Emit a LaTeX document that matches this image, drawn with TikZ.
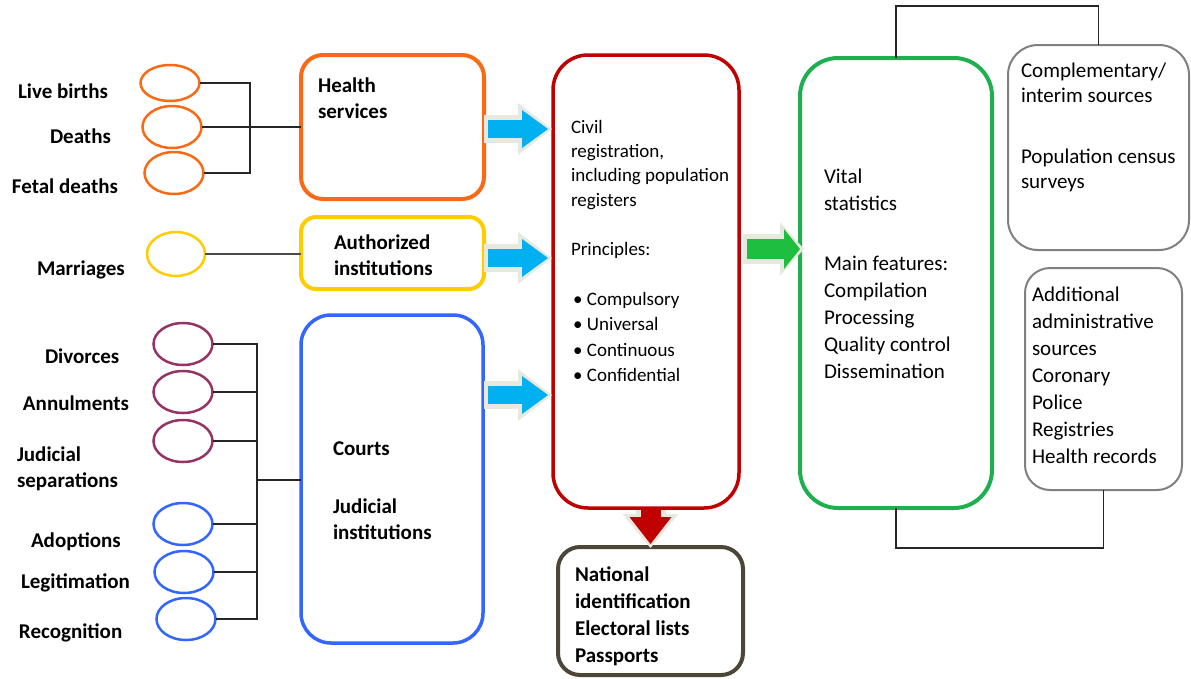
\documentclass[tikz,border=0pt]{standalone}
\usepackage{fontspec}
\setmainfont{Carlito}
\usetikzlibrary{shapes.geometric,arrows.meta,calc}
\definecolor{cOrange}{RGB}{250,105,20}
\definecolor{cYellow}{RGB}{255,204,0}
\definecolor{cPurple}{RGB}{150,50,100}
\definecolor{cBlue}{RGB}{51,102,255}
\definecolor{cRed}{RGB}{192,0,0}
\definecolor{cGreen}{RGB}{30,176,80}
\definecolor{cGray}{RGB}{128,128,128}
\definecolor{cOlive}{RGB}{75,70,55}
\definecolor{aBlue}{RGB}{0,176,240}
\definecolor{aGreen}{RGB}{30,190,65}
\definecolor{aRed}{RGB}{192,0,0}
\definecolor{cHalo}{RGB}{232,232,222}
\begin{document}
\begin{tikzpicture}[x=1pt,y=-1pt,
  every node/.style={inner sep=0pt, outer sep=0pt},
  box/.style={draw, rectangle, fill=white},
  oval/.style={draw, ellipse, line width=2.5pt, minimum width=59pt, minimum height=42pt},
  lbl/.style={anchor=base west, align=left, font=\fontsize{21}{26}\selectfont\bfseries},
  body/.style={anchor=base west, align=left},
  wire/.style={line width=1.4pt, draw=black!85},
  halo/.style={draw=cHalo, line width=#1, shorten <=-4pt, shorten >=-4pt},
]
\useasboundingbox (0,0) rectangle (1191,678);

% ---------- boxes ----------
\node[box, draw=cOrange, line width=4pt, rounded corners=22pt, minimum width=183pt, minimum height=144pt] (hs) at (392.5,127) {};
\node[box, draw=cYellow, line width=4pt, rounded corners=15pt, minimum width=183pt, minimum height=72pt] (auth) at (392.5,253) {};
\node[box, draw=cBlue, line width=3.5pt, rounded corners=30pt, minimum width=182pt, minimum height=328pt] (courts) at (392,479) {};
\node[box, draw=cRed, line width=3.5pt, rounded corners=35pt, minimum width=186pt, minimum height=453pt] (civil) at (646,281.5) {};
\node[box, draw=cOlive, line width=4pt, rounded corners=22pt, minimum width=185pt, minimum height=128pt] (nat) at (650.5,611) {};
\node[box, draw=cGreen, line width=4pt, rounded corners=38pt, minimum width=192pt, minimum height=450pt] (vs) at (896,283) {};
\node[box, draw=cGray, line width=2pt, rounded corners=30pt, minimum width=181pt, minimum height=205pt] (comp) at (1098.5,147.5) {};
\node[box, draw=cGray, line width=2pt, rounded corners=25pt, minimum width=157pt, minimum height=222pt] (add) at (1103.5,379) {};

% ---------- ellipses ----------
\node[oval, draw=cOrange, minimum height=36pt] (eLB) at (170,83) {};
\node[oval, draw=cOrange] (eDe) at (172,127) {};
\node[oval, draw=cOrange] (eFD) at (174,173) {};
\node[oval, draw=cYellow, minimum width=58pt, minimum height=44pt] (eMa) at (176,254) {};
\node[oval, draw=cPurple] (eDi) at (183,344) {};
\node[oval, draw=cPurple] (eAn) at (183,392) {};
\node[oval, draw=cPurple] (eJS) at (183,441) {};
\node[oval, draw=cBlue] (eAd) at (183,524) {};
\node[oval, draw=cBlue] (eLe) at (184,572) {};
\node[oval, draw=cBlue] (eRe) at (186,619) {};

% ---------- left labels (anchor = baseline of last line) ----------
\node[lbl] (tLB) at (18,98) {Live births};
\node[lbl] (tDe) at (50,143) {Deaths};
\node[lbl] (tFD) at (12,193) {Fetal deaths};
\node[lbl] (tMa) at (37,275) {Marriages};
\node[lbl] (tDi) at (45,363) {Divorces};
\node[lbl] (tAn) at (23,410) {Annulments};
\node[lbl] (tJS) at (17,487) {Judicial\\separations};
\node[lbl] (tAd) at (31,547) {Adoptions};
\node[lbl] (tLe) at (21,588) {Legitimation};
\node[lbl] (tRe) at (19,638) {Recognition};

% ---------- box texts ----------
\node[lbl] (tHS) at (318,118) {Health\\services};
\node[lbl] (tAI) at (334,275) {Authorized\\institutions};
\node[lbl] (tCo) at (333,539) {Courts\\[32pt]Judicial\\institutions};
\node[body, font=\fontsize{19}{24.4}\selectfont] (tCR) at (571,255)
  {Civil\\registration,\\including population\\registers\\[24.4pt]Principles:};
\node[body, font=\fontsize{19}{25.5}\selectfont] (tPr) at (573,381.5)
  {\makebox[14pt][l]{\textbullet}Compulsory\\\makebox[14pt][l]{\textbullet}Universal\\\makebox[14pt][l]{\textbullet}Continuous\\\makebox[14pt][l]{\textbullet}Confidential};
\node[body, font=\fontsize{21}{27}\selectfont] (tVS) at (824,378)
  {Vital\\statistics\\[33pt]Main features:\\Compilation\\Processing\\Quality control\\Dissemination};
\node[body, font=\fontsize{21}{25}\selectfont] (tCS) at (1021,188)
  {Complementary/\\interim sources\\[36pt]Population census\\surveys};
\node[body, font=\fontsize{21}{27}\selectfont] (tAS) at (1032,463)
  {Additional\\administrative\\sources\\Coronary\\Police\\Registries\\Health records};
\node[lbl, font=\fontsize{21}{27}\selectfont\bfseries] (tNI) at (575,662)
  {National\\identification\\Electoral lists\\Passports};

% ---------- wires ----------
\coordinate (hbus) at (250,127);
\draw[wire] (eLB.east) -| (hbus);
\draw[wire] (eFD.east) -| (hbus);
\draw[wire] (eDe.east) -- (hbus) -- (hs.west);
\draw[wire, line width=1.1pt, draw=black!70] (eMa.east) -- (eMa.east -| auth.west);
\coordinate (cbus) at (257,480);
\draw[wire] (eDi.east) -| (cbus);
\draw[wire] (eAn.east) -| (cbus);
\draw[wire] (eJS.east) -| (cbus);
\draw[wire] (eAd.east) -| (cbus);
\draw[wire] (eLe.east) -| (cbus);
\draw[wire] (eRe.east) -| (cbus);
\draw[wire, line width=2pt] (cbus) -- (cbus -| courts.west);
\draw[wire] (vs.north) -- ++(0,-52) -| (comp.north);
\draw[wire] (vs.south) -- ++(0,40) -| (add.south);

% ---------- block arrows ----------
\coordinate (a1s) at ($(hs.east)+(4,2)$);
\coordinate (a1e) at ($(a1s -| civil.west)+(-5,0)$);
\coordinate (a2s) at ($(auth.east)+(4,5)$);
\coordinate (a2e) at ($(a2s -| civil.west)+(-5,0)$);
\coordinate (a3s) at ($(courts.east)+(5,-84)$);
\coordinate (a3e) at ($(a3s -| civil.west)+(-5,0)$);
\foreach \s/\e in {a1s/a1e, a2s/a2e, a3s/a3e}{
  \draw[halo=28pt, -{Triangle[length=34pt,width=52pt,line width=0pt]}] (\s) -- (\e);
  \draw[draw=aBlue, line width=18pt, -{Triangle[length=26pt,width=38pt,line width=0pt]}] (\s) -- (\e);
}
\coordinate (gs) at ($(civil.east)+(8,-32.5)$);
\coordinate (ge) at (gs -| vs.west);
\draw[halo=30pt, -{Triangle[length=24pt,width=54pt,line width=0pt]}] (gs) -- (ge);
\draw[draw=aGreen, line width=20pt, -{Triangle[length=16pt,width=40pt,line width=0pt]}] (gs) -- (ge);
\coordinate (rs) at ($(civil.south -| nat.north)+(0,2)$);
\coordinate (re) at ($(nat.north)+(0,-3)$);
\draw[halo=30pt, shorten <=0pt, -{Triangle[length=34pt,width=56pt,line width=0pt]}] (rs) -- (re);
\draw[draw=aRed, line width=20pt, -{Triangle[length=27pt,width=42pt,line width=0pt]}] ($(civil.south -| nat.north)+(0,-1)$) -- (re);
\end{tikzpicture}
\end{document}
